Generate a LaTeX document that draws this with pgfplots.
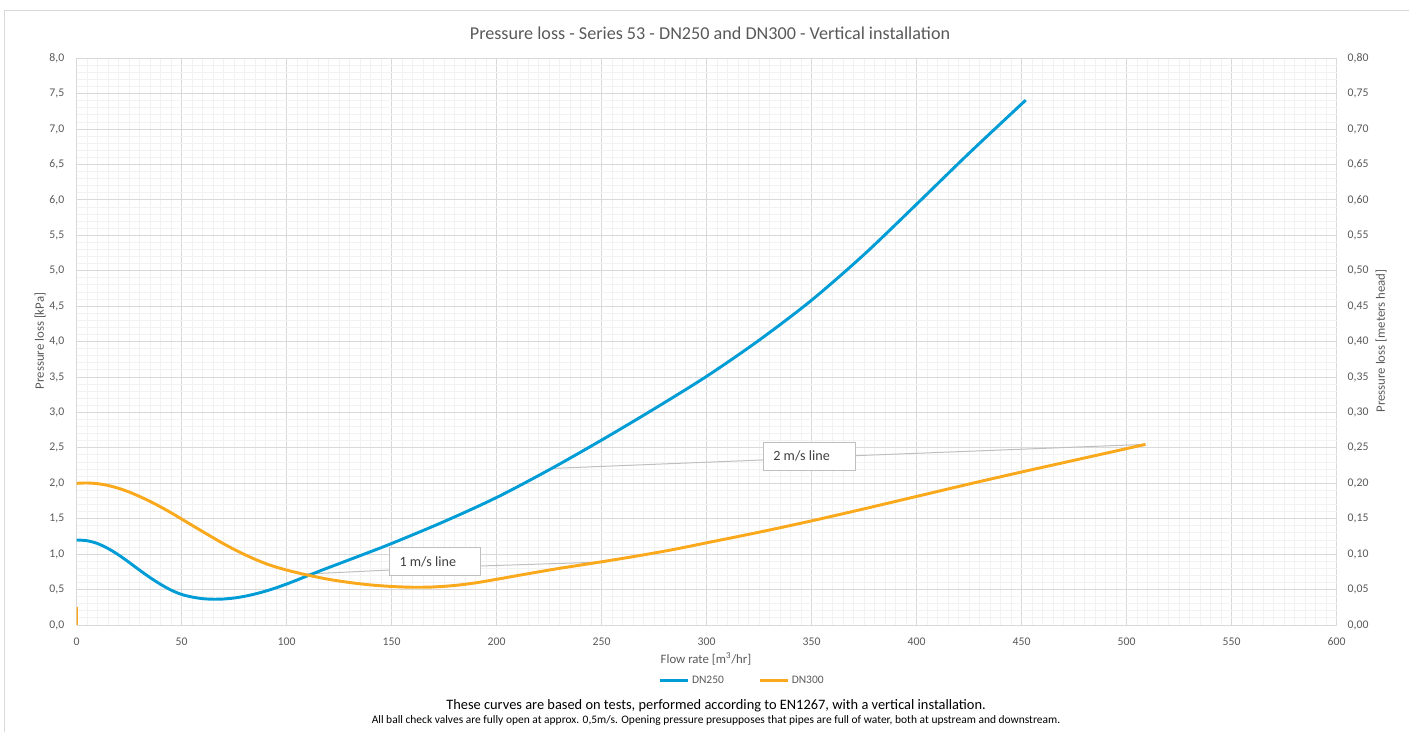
\documentclass[border=0pt]{standalone}
\usepackage{fontspec}
\setmainfont{Carlito}
\usepackage{pgfplots}
\pgfplotsset{compat=1.18}

\definecolor{dnblue}{RGB}{0,156,214}
\definecolor{dnorange}{RGB}{250,168,28}
\definecolor{gridmaj}{RGB}{217,217,217}
\definecolor{gridmin}{RGB}{242,242,242}
\definecolor{txtgray}{RGB}{89,89,89}
\definecolor{calloutline}{RGB}{191,191,191}
\definecolor{callouttext}{RGB}{64,64,64}

% Pressure loss of DN250 (flow rate m3/hr, kPa)
\pgfplotstableread{
q     p
0     1.200
5     1.190
10    1.150
15    1.080
20    0.990
25    0.885
30    0.775
35    0.670
40    0.575
45    0.493
50    0.432
55    0.395
60    0.372
65    0.364
70    0.367
75    0.381
80    0.405
85    0.438
90    0.478
95    0.525
100   0.578
105   0.635
110   0.695
120   0.810
130   0.922
140   1.035
150   1.150
175   1.460
200   1.800
225   2.190
250   2.610
275   3.050
300   3.510
325   4.020
350   4.585
375   5.230
400   5.940
425   6.660
452   7.410
}\dnA

% Pressure loss of DN300 (flow rate m3/hr, kPa)
\pgfplotstableread{
q     p
0     2.000
5     2.005
10    1.995
15    1.970
20    1.930
25    1.878
30    1.815
35    1.745
40    1.668
45    1.585
50    1.497
55    1.408
60    1.320
65    1.233
70    1.148
75    1.068
80    0.995
85    0.928
90    0.868
95    0.818
100   0.776
105   0.739
110   0.705
120   0.645
130   0.600
140   0.566
150   0.544
160   0.533
170   0.537
180   0.558
190   0.595
200   0.645
210   0.698
220   0.750
230   0.800
240   0.846
250   0.892
260   0.940
270   0.990
285   1.070
300   1.160
325   1.310
350   1.470
375   1.640
400   1.815
425   1.990
450   2.160
475   2.325
500   2.490
509   2.550
}\dnB

\begin{document}
\begin{tikzpicture}
\path[use as bounding box] (0,0) rectangle (1056.75pt,549pt);
\draw[gridmaj, line width=0.75pt] (3pt,0) -- (3pt,540.75pt) -- (1056.75pt,540.75pt);

\begin{axis}[
  at={(57.4pt,80.25pt)}, anchor=south west,
  scale only axis, width=945pt, height=425pt,
  xmin=0, xmax=600, ymin=0, ymax=8,
  xtick distance=50, ytick distance=0.5,
  minor x tick num=9, minor y tick num=4,
  grid=both,
  major grid style={draw=gridmaj, line width=0.75pt},
  minor grid style={draw=gridmin, line width=0.75pt},
  axis line style={draw=none},
  major tick length=0pt, minor tick length=0pt,
  tick label style={font=\fontsize{8.8pt}{10pt}\selectfont, text=txtgray},
  /pgf/number format/assume math mode=true,
  xticklabel style={yshift=-6pt, /pgf/number format/.cd, fixed, precision=0},
  yticklabel style={xshift=-5.7pt, /pgf/number format/.cd, fixed, fixed zerofill, precision=1, use comma},
  legend style={at={(0.5286,-0.0983)}, anchor=center, draw=none, fill=none,
    legend columns=2, font=\fontsize{8.6pt}{10pt}\selectfont, text=txtgray,
    /tikz/every even column/.append style={column sep=24pt},
    inner sep=0pt},
  legend image code/.code={\draw[#1] (0pt,0pt) -- (20.7pt,0pt);},
]
  % callout leader lines
  \draw[calloutline, line width=0.75pt] (axis cs:225.7,2.21) -- (axis cs:326.9,2.33);
  \draw[calloutline, line width=0.75pt] (axis cs:370.7,2.39) -- (axis cs:509,2.55);
  \draw[calloutline, line width=0.75pt] (axis cs:110,0.72) -- (axis cs:148.9,0.776);
  \draw[calloutline, line width=0.75pt] (axis cs:192.4,0.833) -- (axis cs:252,0.89);

  \addplot[dnblue, line width=2.2pt, smooth, tension=0.5] table[x=q, y=p] {\dnA};
  \addlegendentry{DN250}
  \addplot[dnorange, line width=2.2pt, smooth, tension=0.5] table[x=q, y=p] {\dnB};
  \addlegendentry{DN300}
  \addplot[dnorange, line width=1.5pt, forget plot] coordinates {(0,0) (0,0.25)};

  % callout boxes
  \draw[calloutline, fill=white, line width=0.75pt] (axis cs:326.9,2.583) rectangle (axis cs:370.7,2.188);
  \node[anchor=west, text=callouttext, font=\fontsize{10.6pt}{12pt}\selectfont, inner sep=0pt]
    at (axis cs:331.7,2.385) {2 m/s line};
  \draw[calloutline, fill=white, line width=0.75pt] (axis cs:148.9,1.091) rectangle (axis cs:192.4,0.692);
  \node[anchor=west, text=callouttext, font=\fontsize{10.6pt}{12pt}\selectfont, inner sep=0pt]
    at (axis cs:153.7,0.891) {1 m/s line};
\end{axis}

\begin{axis}[
  at={(57.4pt,80.25pt)}, anchor=south west,
  scale only axis, width=945pt, height=425pt,
  xmin=0, xmax=600, ymin=0, ymax=0.8,
  hide x axis, axis y line*=right,
  axis line style={draw=none},
  major tick length=0pt,
  ytick={0,0.05,0.1,0.15,0.2,0.25,0.3,0.35,0.4,0.45,0.5,0.55,0.6,0.65,0.7,0.75,0.8},
  tick label style={font=\fontsize{8.8pt}{10pt}\selectfont, text=txtgray},
  /pgf/number format/assume math mode=true,
  yticklabel style={xshift=4.8pt, /pgf/number format/.cd, fixed, fixed zerofill, precision=2, use comma},
]
\end{axis}

\node[text=txtgray, font=\fontsize{13.6pt}{16pt}\selectfont] at (532.5pt,524.25pt)
  {Pressure loss - Series 53 - DN250 and DN300 - Vertical installation};
\node[text=txtgray, font=\fontsize{9.6pt}{11pt}\selectfont, rotate=90] at (30pt,293.25pt)
  {Pressure loss [kPa]};
\node[text=txtgray, font=\fontsize{9.6pt}{11pt}\selectfont, rotate=90] at (1035.75pt,293.25pt)
  {Pressure loss [meters head]};
\node[text=txtgray, font=\fontsize{9.6pt}{11pt}\selectfont] at (529.5pt,54.75pt)
  {Flow rate [m\textsuperscript{3}/hr]};
\node[text=black, font=\fontsize{10.8pt}{12pt}\selectfont] at (537pt,19.5pt)
  {These curves are based on tests, performed according to EN1267, with a vertical installation.};
\node[text=black, font=\fontsize{8.6pt}{10pt}\selectfont] at (537pt,8.25pt)
  {All ball check valves are fully open at approx. 0,5m/s. Opening pressure presupposes that pipes are full of water, both at upstream and downstream.};
\end{tikzpicture}
\end{document}
